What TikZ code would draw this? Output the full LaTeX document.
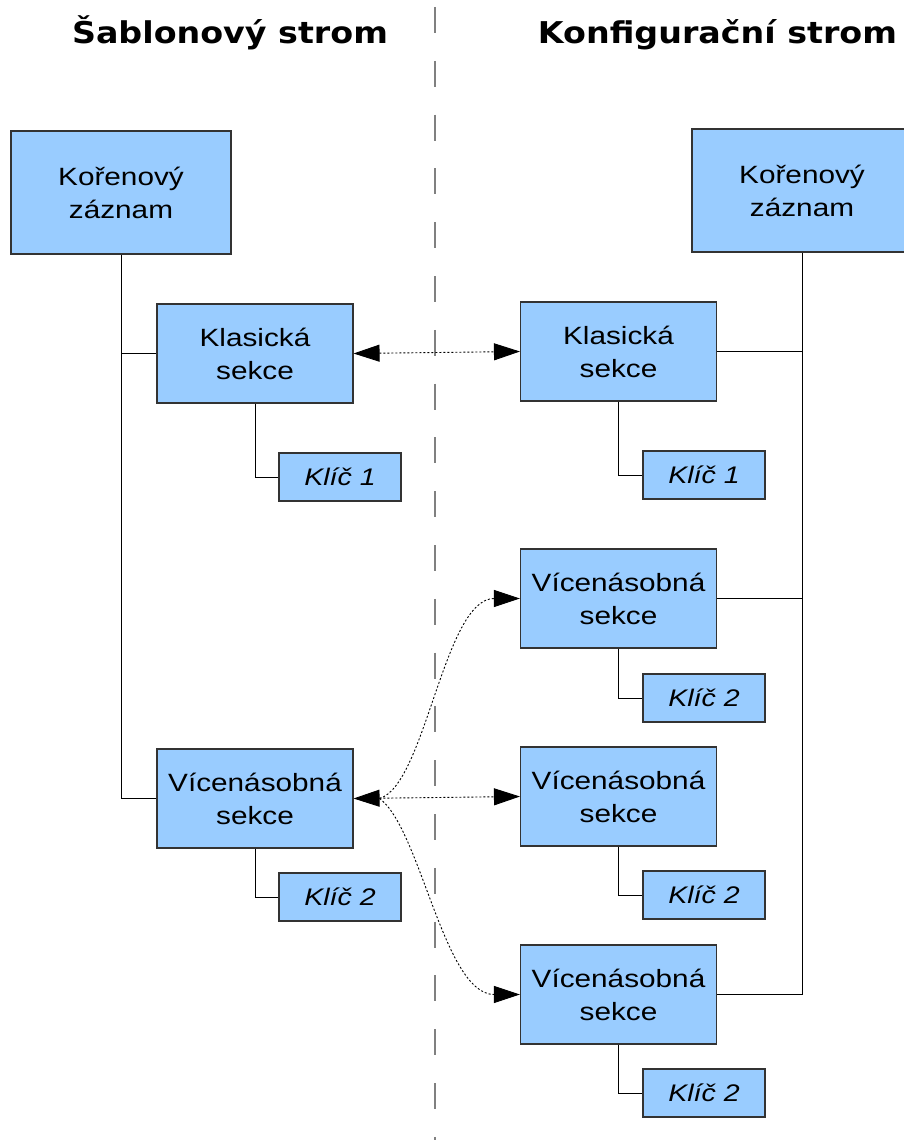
\documentclass[tikz,border=0pt]{standalone}
\usepackage{fontspec}
\usetikzlibrary{arrows.meta,calc}

\newfontfamily\boxfont[FakeStretch=1.19]{Liberation Sans}
\newfontfamily\headfont[FakeStretch=1.11]{DejaVu Sans}

\definecolor{boxblue}{HTML}{99CCFF}
\definecolor{edgegray}{HTML}{333333}
\definecolor{divgray}{HTML}{808080}

\tikzset{
  treebox/.style={draw=edgegray, fill=boxblue, line width=1.1pt, inner sep=0pt,
    align=center, font=\boxfont\fontsize{25}{33}\selectfont},
  rootbox/.style={treebox, minimum width=220pt, minimum height=123pt},
  sectbox/.style={treebox, minimum width=196pt, minimum height=99pt},
  keybox/.style={treebox, minimum width=122pt, minimum height=48pt,
    font=\boxfont\itshape\fontsize{24}{28}\selectfont},
  heading/.style={anchor=base, inner sep=0pt, font=\headfont\bfseries\fontsize{30}{34}\selectfont},
  link/.style={draw=black, line width=1pt},
  ref/.style={draw=black, line width=0.9pt, dash pattern=on 2pt off 2pt},
  divider/.style={draw=divgray, line width=1.3pt, dash pattern=on 26pt off 27.8pt},
  >={Triangle[length=26pt,width=17pt]}
}

\begin{document}
\begin{tikzpicture}[x=1pt,y=-1pt]
\useasboundingbox (0,0) rectangle (903,1140);

% column separator
\coordinate (divtop) at (435,7);
\coordinate (divbot) at (435,1140);
\draw[divider] (divtop) -- (divbot);

% headings
\node[heading] (hleft) at (230,44) {Šablonový strom};
\node[heading] (hright) at (717.5,43.5) {Konfigurační strom};

% template tree
\node[rootbox] (lroot) at (121,192.5) {Kořenový\\záznam};
\node[sectbox] (lk) at (255,353.5) {Klasická\\sekce};
\node[keybox] (lk1) at (340,477) {Klíč 1};
\node[sectbox] (lv) at (255,798.5) {Vícenásobná\\sekce};
\node[keybox] (lv1) at (340,897) {Klíč 2};

% configuration tree
\node[rootbox] (rroot) at (802,190.5) {Kořenový\\záznam};
\node[sectbox] (rk) at (618.5,351.5) {Klasická\\sekce};
\node[keybox] (rk1) at (704,475) {Klíč 1};
\node[sectbox] (rva) at (618.5,598.5) {Vícenásobná\\sekce};
\node[keybox] (rvak) at (704,698) {Klíč 2};
\node[sectbox] (rvb) at (618.5,796.5) {Vícenásobná\\sekce};
\node[keybox] (rvbk) at (704,895) {Klíč 2};
\node[sectbox] (rvc) at (618.5,994.5) {Vícenásobná\\sekce};
\node[keybox] (rvck) at (704,1093) {Klíč 2};

% tree links, template side
\draw[link] (lroot.south) |- (lv.west);
\draw[link] (lroot.south |- lk.west) -- (lk.west);
\draw[link] (lk.south) |- (lk1.west);
\draw[link] (lv.south) |- (lv1.west);

% tree links, configuration side
\draw[link] (rroot.south) |- (rvc.east);
\draw[link] (rroot.south |- rk.east) -- (rk.east);
\draw[link] (rroot.south |- rva.east) -- (rva.east);
\draw[link] (rk.south) |- (rk1.west);
\draw[link] (rva.south) |- (rvak.west);
\draw[link] (rvb.south) |- (rvbk.west);
\draw[link] (rvc.south) |- (rvck.west);

% correspondences between the trees
\draw[ref, <->] (lk.east) -- (rk.west);
\draw[ref, <->] (lv.east) -- (rvb.west);
\coordinate (fork) at ($(lv.east)+(26,0)$);
\draw[ref, ->] (fork) .. controls +(46,-13.5) and +(-76,0) .. (rva.west);
\draw[ref, ->] (fork) .. controls +(41,30) and +(-76,0) .. (rvc.west);
\end{tikzpicture}
\end{document}
